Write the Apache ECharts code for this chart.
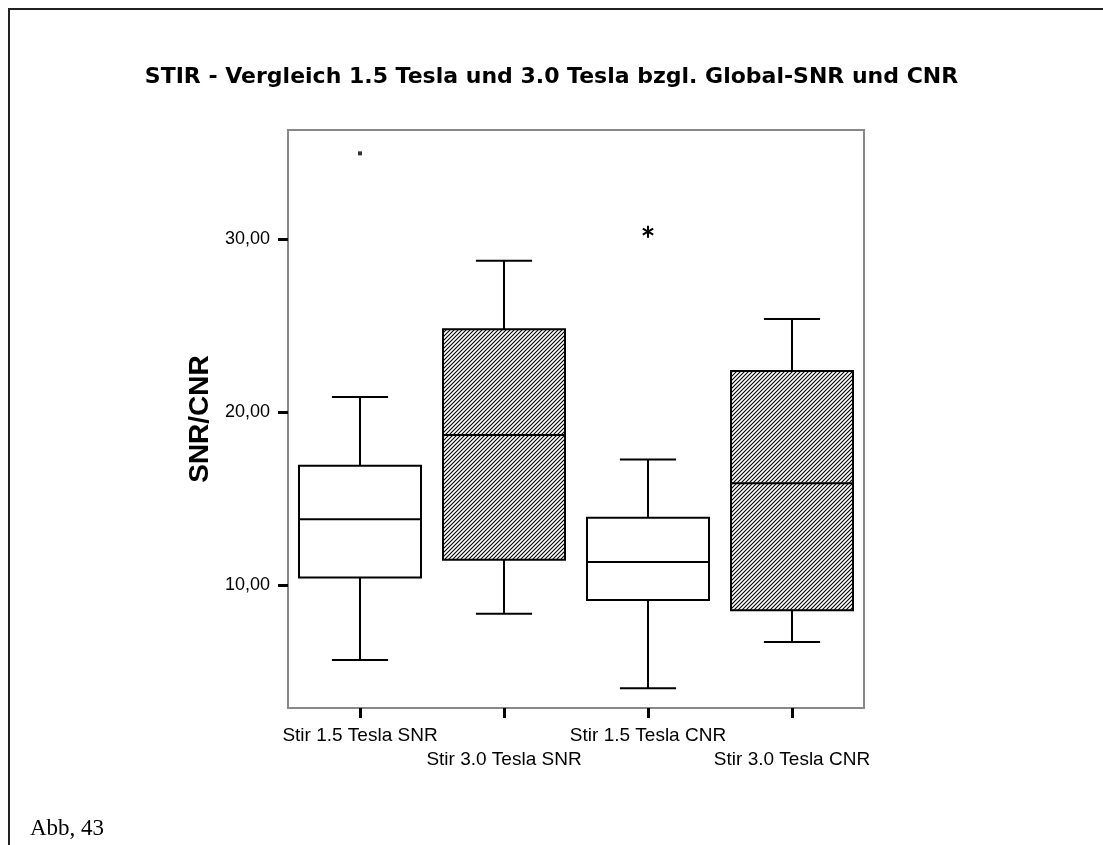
<!DOCTYPE html>
<html>
<head>
<meta charset="utf-8">
<script src="https://cdn.jsdelivr.net/npm/echarts@6/dist/echarts.min.js"></script>
<style>
html,body{margin:0;padding:0;background:#fff;}
#chart{width:1103px;height:845px;}
</style>
</head>
<body>
<div id="chart"></div>
<script>
// ---- data ----
const categories = ['Stir 1.5 Tesla SNR', 'Stir 3.0 Tesla SNR', 'Stir 1.5 Tesla CNR', 'Stir 3.0 Tesla CNR'];
const whiskerLow  = [5.68, 8.36, 4.05, 6.72];
const quartile1   = [10.46, 11.48, 9.15, 8.56];
const medians     = [13.82, 18.69, 11.35, 15.90];
const quartile3   = [16.91, 24.81, 13.91, 22.39];
const whiskerHigh = [20.88, 28.76, 17.28, 25.39];
const outlierCategory = [0];
const outlierValue    = [34.97];
const extremeCategory = [2];
const extremeValue    = [30.44];
const yTickValues = [10, 20, 30];
const titleText = 'STIR - Vergleich 1.5 Tesla und 3.0 Tesla bzgl. Global-SNR und CNR';
const yAxisTitle = 'SNR/CNR';
const footnote = 'Abb, 43';

// ---- hatch pattern ----
function makeHatch() {
  const s = 4;
  const c = document.createElement('canvas');
  c.width = s; c.height = s;
  const g = c.getContext('2d');
  g.fillStyle = '#fff';
  g.fillRect(0, 0, s, s);
  g.strokeStyle = '#000';
  g.lineWidth = 1.1;
  g.beginPath();
  g.moveTo(-1, s + 1); g.lineTo(s + 1, -1);
  g.moveTo(-1, 1); g.lineTo(1, -1);
  g.moveTo(s - 1, s + 1); g.lineTo(s + 1, s - 1);
  g.stroke();
  return c;
}
const hatch = { image: makeHatch(), repeat: 'repeat' };

const boxData = categories.map((c, i) => [i, whiskerLow[i], quartile1[i], medians[i], quartile3[i], whiskerHigh[i]]);
const outlierData = outlierCategory.map((c, i) => [c, outlierValue[i]]);
const extremeData = extremeCategory.map((c, i) => [c, extremeValue[i]]);

const chart = echarts.init(document.getElementById('chart'), null, { renderer: 'canvas' });

const lineStyle = { stroke: '#000', lineWidth: 2 };

chart.setOption({
  animation: false,
  backgroundColor: '#fff',
  title: {
    text: titleText,
    left: 'center',
    top: 61,
    textStyle: { fontFamily: 'DejaVu Sans', fontWeight: 'bold', fontSize: 22, color: '#000' }
  },
  graphic: [
    { type: 'line', shape: { x1: 8, y1: 9, x2: 1103, y2: 9 }, style: { stroke: '#222', lineWidth: 2 }, silent: true },
    { type: 'line', shape: { x1: 9, y1: 8, x2: 9, y2: 845 }, style: { stroke: '#222', lineWidth: 2 }, silent: true },
    { type: 'text', left: 30, top: 817, style: { text: footnote, font: '23px "Liberation Serif"', fill: '#000' }, silent: true }
  ],
  grid: {
    left: 288, right: 239, top: 130, bottom: 137,
    show: true, borderColor: '#888', borderWidth: 2, backgroundColor: '#fff'
  },
  xAxis: {
    type: 'category',
    data: categories,
    boundaryGap: true,
    axisLine: { show: false },
    axisTick: { show: true, alignWithLabel: true, interval: 0, length: 10, lineStyle: { color: '#000', width: 3 } },
    axisLabel: {
      interval: 0, margin: 16, fontSize: 19, lineHeight: 24, color: '#000',
      fontFamily: 'Liberation Sans',
      formatter: (v, i) => (i % 2 ? '\n' + v : v)
    },
    splitLine: { show: false }
  },
  yAxis: {
    type: 'value',
    min: 2.91,
    max: 36.32,
    name: yAxisTitle,
    nameLocation: 'middle',
    nameRotate: 90,
    nameGap: 70,
    nameTextStyle: { fontFamily: 'Liberation Sans', fontWeight: 'bold', fontSize: 28, color: '#000' },
    axisLine: { show: false },
    splitLine: { show: false },
    axisTick: { show: true, inside: false, length: 10, lineStyle: { color: '#000', width: 3 }, customValues: yTickValues },
    axisLabel: {
      customValues: yTickValues, margin: 18, fontSize: 18, color: '#000', fontFamily: 'Liberation Sans',
      formatter: v => v.toFixed(2).replace('.', ',')
    }
  },
  series: [
    {
      type: 'custom',
      data: boxData,
      encode: { x: 0, y: [1, 2, 3, 4, 5] },
      renderItem: function (params, api) {
        const idx = api.value(0);
        const band = api.size([1, 0])[0];
        const boxW = band * 0.85;
        const capW = band * 0.39;
        const pLow = api.coord([idx, api.value(1)]);
        const pQ1 = api.coord([idx, api.value(2)]);
        const pMed = api.coord([idx, api.value(3)]);
        const pQ3 = api.coord([idx, api.value(4)]);
        const pHigh = api.coord([idx, api.value(5)]);
        const cx = Math.round(pMed[0]);
        const isHatched = categories[params.dataIndex].indexOf('3.0') >= 0;
        const bx = Math.round(cx - boxW / 2);
        return {
          type: 'group',
          children: [
            { type: 'line', shape: { x1: cx, y1: pHigh[1], x2: cx, y2: pQ3[1] }, style: lineStyle },
            { type: 'line', shape: { x1: cx - capW / 2, y1: pHigh[1], x2: cx + capW / 2, y2: pHigh[1] }, style: lineStyle },
            { type: 'line', shape: { x1: cx, y1: pQ1[1], x2: cx, y2: pLow[1] }, style: lineStyle },
            { type: 'line', shape: { x1: cx - capW / 2, y1: pLow[1], x2: cx + capW / 2, y2: pLow[1] }, style: lineStyle },
            {
              type: 'rect',
              shape: { x: bx, y: pQ3[1], width: Math.round(boxW), height: pQ1[1] - pQ3[1] },
              style: { fill: isHatched ? hatch : '#fff', stroke: '#000', lineWidth: 2 }
            },
            { type: 'line', shape: { x1: bx, y1: pMed[1], x2: bx + Math.round(boxW), y2: pMed[1] }, style: lineStyle }
          ]
        };
      },
      z: 3
    },
    {
      type: 'scatter',
      data: outlierData,
      symbol: 'rect',
      symbolSize: 4,
      itemStyle: { color: '#000' },
      z: 4
    },
    {
      type: 'custom',
      data: extremeData,
      encode: { x: 0, y: 1 },
      renderItem: function (params, api) {
        const p = api.coord([api.value(0), api.value(1)]);
        const r = 6;
        const children = [];
        [90, 30, 150].forEach(a => {
          const rad = a * Math.PI / 180;
          const dx = Math.cos(rad) * r, dy = Math.sin(rad) * r;
          children.push({ type: 'line', shape: { x1: p[0] - dx, y1: p[1] - dy, x2: p[0] + dx, y2: p[1] + dy }, style: { stroke: '#000', lineWidth: 2 } });
        });
        return { type: 'group', children: children };
      },
      z: 4
    }
  ]
});
</script>
</body>
</html>
